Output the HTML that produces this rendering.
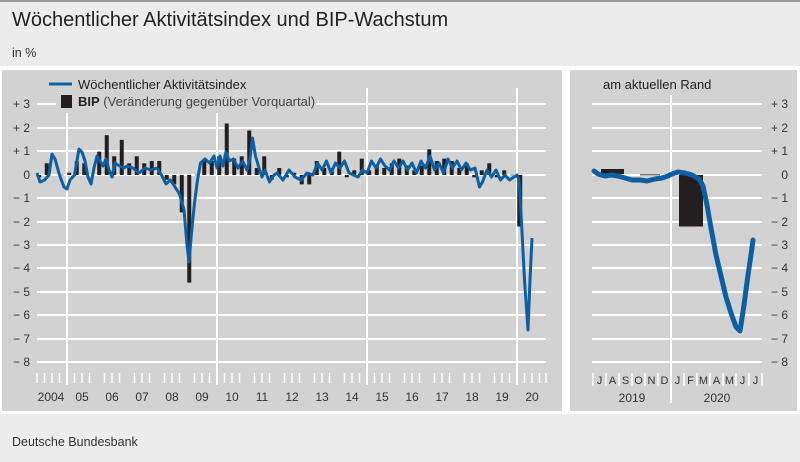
<!DOCTYPE html>
<html><head><meta charset="utf-8"><style>
body{margin:0;width:800px;height:457px;overflow:hidden;background:#ececec;font-family:"Liberation Sans",sans-serif}
</style></head><body>
<svg width="800" height="457" xmlns="http://www.w3.org/2000/svg" font-family="Liberation Sans, sans-serif">
<rect x="0" y="0" width="800" height="457" fill="#ececec"/>
<rect x="0" y="0" width="800" height="2" fill="#999"/>
<text x="12" y="26" font-size="20" fill="#222">Wöchentlicher Aktivitätsindex und BIP-Wachstum</text>
<text x="12" y="57" font-size="12.5" fill="#333">in %</text>
<rect x="0" y="66" width="800" height="349" fill="#fff"/>
<rect x="2" y="70" width="560" height="341" fill="#d2d2d2"/>
<rect x="570" y="70" width="227" height="341" fill="#d2d2d2"/>
<g stroke="#fff" stroke-width="2">
<line x1="37" y1="104" x2="546" y2="104"/><line x1="37" y1="128" x2="546" y2="128"/><line x1="37" y1="151" x2="546" y2="151"/><line x1="37" y1="175" x2="546" y2="175"/><line x1="37" y1="198" x2="546" y2="198"/><line x1="37" y1="222" x2="546" y2="222"/><line x1="37" y1="245" x2="546" y2="245"/><line x1="37" y1="268" x2="546" y2="268"/><line x1="37" y1="292" x2="546" y2="292"/><line x1="37" y1="315" x2="546" y2="315"/><line x1="37" y1="339" x2="546" y2="339"/><line x1="37" y1="362" x2="546" y2="362"/>
<line x1="592" y1="104" x2="762" y2="104"/><line x1="592" y1="128" x2="762" y2="128"/><line x1="592" y1="151" x2="762" y2="151"/><line x1="592" y1="175" x2="762" y2="175"/><line x1="592" y1="198" x2="762" y2="198"/><line x1="592" y1="222" x2="762" y2="222"/><line x1="592" y1="245" x2="762" y2="245"/><line x1="592" y1="268" x2="762" y2="268"/><line x1="592" y1="292" x2="762" y2="292"/><line x1="592" y1="315" x2="762" y2="315"/><line x1="592" y1="339" x2="762" y2="339"/><line x1="592" y1="362" x2="762" y2="362"/>
<line x1="67" y1="113" x2="67" y2="385"/><line x1="217" y1="113" x2="217" y2="385"/><line x1="367" y1="88" x2="367" y2="385"/><line x1="517" y1="88" x2="517" y2="385"/>
<line x1="671" y1="95" x2="671" y2="403"/>
</g>
<rect x="56" y="76" width="260" height="36" fill="#d2d2d2"/>
<g stroke="#fff" stroke-width="1.5">
<path d="M37 373V383M44.5 373V383M52 373V383M59.5 373V383M74.5 373V383M82 373V383M89.5 373V383M104.5 373V383M112 373V383M119.5 373V383M134.5 373V383M142 373V383M149.5 373V383M164.5 373V383M172 373V383M179.5 373V383M194.5 373V383M202 373V383M209.5 373V383M224.5 373V383M232 373V383M239.5 373V383M254.5 373V383M262 373V383M269.5 373V383M284.5 373V383M292 373V383M299.5 373V383M314.5 373V383M322 373V383M329.5 373V383M344.5 373V383M352 373V383M359.5 373V383M374.5 373V383M382 373V383M389.5 373V383M404.5 373V383M412 373V383M419.5 373V383M434.5 373V383M442 373V383M449.5 373V383M464.5 373V383M472 373V383M479.5 373V383M494.5 373V383M502 373V383M509.5 373V383M524.5 373V383M532 373V383M539.5 373V383M546 373V383"/>
<path d="M593 373V386M606 373V386M619 373V386M632 373V386M645 373V386M658 373V386M684 373V386M697 373V386M710 373V386M723 373V386M736 373V386M749 373V386M762 373V386"/>
</g>
<g fill="#231f20">
<rect x="37.25" y="175" width="4" height="2.3"/><rect x="44.75" y="163.3" width="4" height="11.7"/><rect x="59.75" y="174.5" width="4" height="1" fill="#777"/>
<rect x="67.25" y="172.7" width="4" height="2.3"/><rect x="74.75" y="161" width="4" height="14"/><rect x="82.25" y="163.3" width="4" height="11.7"/>
<rect x="97.25" y="151.6" width="4" height="23.4"/><rect x="104.75" y="135.2" width="4" height="39.8"/><rect x="112.25" y="156.3" width="4" height="18.7"/><rect x="119.75" y="139.9" width="4" height="35.1"/>
<rect x="127.25" y="163.3" width="4" height="11.7"/><rect x="134.75" y="156.3" width="4" height="18.7"/><rect x="142.25" y="163.3" width="4" height="11.7"/><rect x="149.75" y="161" width="4" height="14"/>
<rect x="157.25" y="161" width="4" height="14"/><rect x="164.75" y="175" width="4" height="4.7"/><rect x="172.25" y="175" width="4" height="9.4"/><rect x="179.75" y="175" width="4" height="37.4"/>
<rect x="187.25" y="175" width="4" height="107.6"/><rect x="194.75" y="174.5" width="4" height="1" fill="#777"/><rect x="202.25" y="161" width="4" height="14"/><rect x="209.75" y="161" width="4" height="14"/>
<rect x="217.25" y="156.3" width="4" height="18.7"/><rect x="224.75" y="123.5" width="4" height="51.5"/><rect x="232.25" y="158.6" width="4" height="16.4"/><rect x="239.75" y="156.3" width="4" height="18.7"/>
<rect x="247.25" y="130.5" width="4" height="44.5"/><rect x="254.75" y="168" width="4" height="7"/><rect x="262.25" y="156.3" width="4" height="18.7"/><rect x="269.75" y="175" width="4" height="4.7"/>
<rect x="277.25" y="168" width="4" height="7"/><rect x="284.75" y="175" width="4" height="2.3"/><rect x="292.25" y="172.7" width="4" height="2.3"/><rect x="299.75" y="175" width="4" height="9.4"/>
<rect x="307.25" y="175" width="4" height="9.4"/><rect x="314.75" y="161" width="4" height="14"/><rect x="322.25" y="168" width="4" height="7"/><rect x="329.75" y="168" width="4" height="7"/>
<rect x="337.25" y="151.6" width="4" height="23.4"/><rect x="344.75" y="175" width="4" height="2.3"/><rect x="352.25" y="170.3" width="4" height="4.7"/><rect x="359.75" y="158.6" width="4" height="16.4"/>
<rect x="367.25" y="170.3" width="4" height="4.7"/><rect x="374.75" y="165.6" width="4" height="9.4"/><rect x="382.25" y="168" width="4" height="7"/><rect x="389.75" y="163.3" width="4" height="11.7"/>
<rect x="397.25" y="158.6" width="4" height="16.4"/><rect x="404.75" y="165.6" width="4" height="9.4"/><rect x="412.25" y="170.3" width="4" height="4.7"/><rect x="419.75" y="165.6" width="4" height="9.4"/>
<rect x="427.25" y="149.3" width="4" height="25.7"/><rect x="434.75" y="161" width="4" height="14"/><rect x="442.25" y="158.6" width="4" height="16.4"/><rect x="449.75" y="161" width="4" height="14"/>
<rect x="457.25" y="168" width="4" height="7"/><rect x="464.75" y="163.3" width="4" height="11.7"/><rect x="472.25" y="175" width="4" height="2.3"/><rect x="479.75" y="170.3" width="4" height="4.7"/>
<rect x="487.25" y="163.3" width="4" height="11.7"/><rect x="494.75" y="175" width="4" height="2.3"/><rect x="502.25" y="170.3" width="4" height="4.7"/><rect x="509.75" y="174.5" width="4" height="1" fill="#777"/>
<rect x="517.25" y="175" width="5" height="51.5"/>
<rect x="601" y="169" width="23" height="5"/><rect x="640" y="174" width="20" height="1.5" fill="#777"/><rect x="679" y="175" width="24" height="51.5"/>
</g>
<polyline fill="none" stroke="#0d5fa3" stroke-width="3" stroke-linejoin="round" points="37,173 40,182 44.5,180 49,175 52,154 55,159 59.5,175 64,187 67,189 70,180 74.5,175 79,149 82,152 85,161 88,177 91,184 94,168 97,156 100,161 103,166 106,159 109,170 112,177 115,163 119.5,166 124,168 127,166 133,168 139,173 145,168 151,170 157,168 161.5,175 166,184 170.5,180 175,187 179.5,194 184,210 187,245 189,262 191.5,233 194.5,203 197.5,180 200.5,163 205,159 209.5,163 214,156 217,168 220,156 223,166 226,152 229,161 233.5,159 238,168 242.5,161 247,170 250,159 252.5,138 255.5,156 259,168 262,177 265,170 269.5,182 274,175 277,173 283,180 289,170 295,177 301,180 307,173 313,175 317.5,163 322,170 326.5,161 331,173 335.5,163 340,168 344.5,161 349,173 353.5,175 358,177 362.5,170 367,173 371.5,161 376,168 380.5,159 385,166 389.5,170 394,161 398.5,168 403,161 407.5,170 412,163 416.5,173 421,161 425.5,168 430,156 434.5,170 439,163 443.5,173 448,159 452.5,168 457,161 461.5,170 466,163 470.5,170 475,168 479.5,187 482.5,182 487,170 491.5,177 496,170 500.5,180 505,175 509.5,180 514,177 517,175 519,180 521.5,222 524.5,280 528,330 530,280 532,238"/>
<polyline fill="none" stroke="#0d5fa3" stroke-width="5" stroke-linejoin="round" stroke-linecap="round" points="594,171 598,174 605,176 612,175 618,176 625,178 632,180 640,180 647,181 655,179 662,178 668,176 672,174 678,172 685,173 692,175 699,179 703,186 707,205 711,228 716,255 721,276 726,297 731,313 736,327 740,331 744,305 748,275 751,255 753,240"/>
<line x1="49" y1="84" x2="72" y2="84" stroke="#0d5fa3" stroke-width="3"/>
<rect x="61" y="95" width="11" height="13" fill="#231f20"/>
<text x="78" y="89" font-size="13" fill="#222">Wöchentlicher Aktivitätsindex</text>
<text x="78" y="106" font-size="13" fill="#222"><tspan font-weight="bold">BIP</tspan> <tspan fill="#444">(Veränderung gegenüber Vorquartal)</tspan></text>
<text x="603" y="89" font-size="13" fill="#222">am aktuellen Rand</text>
<g font-size="12" fill="#333" text-anchor="end">
<text x="30" y="108">+ 3</text><text x="30" y="132">+ 2</text><text x="30" y="155">+ 1</text><text x="30" y="179">0</text><text x="30" y="202">− 1</text><text x="30" y="226">− 2</text><text x="30" y="249">− 3</text><text x="30" y="272">− 4</text><text x="30" y="296">− 5</text><text x="30" y="319">− 6</text><text x="30" y="343">− 7</text><text x="30" y="366">− 8</text>
<text x="788" y="108">+ 3</text><text x="788" y="132">+ 2</text><text x="788" y="155">+ 1</text><text x="788" y="179">0</text><text x="788" y="202">− 1</text><text x="788" y="226">− 2</text><text x="788" y="249">− 3</text><text x="788" y="272">− 4</text><text x="788" y="296">− 5</text><text x="788" y="319">− 6</text><text x="788" y="343">− 7</text><text x="788" y="366">− 8</text>
</g>
<g font-size="12" fill="#333" text-anchor="middle">
<text x="51" y="401">2004</text><text x="82" y="401">05</text><text x="112" y="401">06</text><text x="142" y="401">07</text><text x="172" y="401">08</text><text x="202" y="401">09</text><text x="232" y="401">10</text><text x="262" y="401">11</text><text x="292" y="401">12</text><text x="322" y="401">13</text><text x="352" y="401">14</text><text x="382" y="401">15</text><text x="412" y="401">16</text><text x="442" y="401">17</text><text x="472" y="401">18</text><text x="502" y="401">19</text><text x="532" y="401">20</text>
<g font-size="11"><text x="599.5" y="384">J</text><text x="612.5" y="384">A</text><text x="625.5" y="384">S</text><text x="638.5" y="384">O</text><text x="651.5" y="384">N</text><text x="664.5" y="384">D</text><text x="677.5" y="384">J</text><text x="690.5" y="384">F</text><text x="703.5" y="384">M</text><text x="716.5" y="384">A</text><text x="729.5" y="384">M</text><text x="742.5" y="384">J</text><text x="755.5" y="384">J</text></g>
<text x="632" y="402">2019</text><text x="717" y="402">2020</text>
</g>
<rect x="0" y="414" width="800" height="43" fill="#ececec"/>
<text x="12" y="446" font-size="12.5" fill="#333">Deutsche Bundesbank</text>
</svg>
</body></html>
